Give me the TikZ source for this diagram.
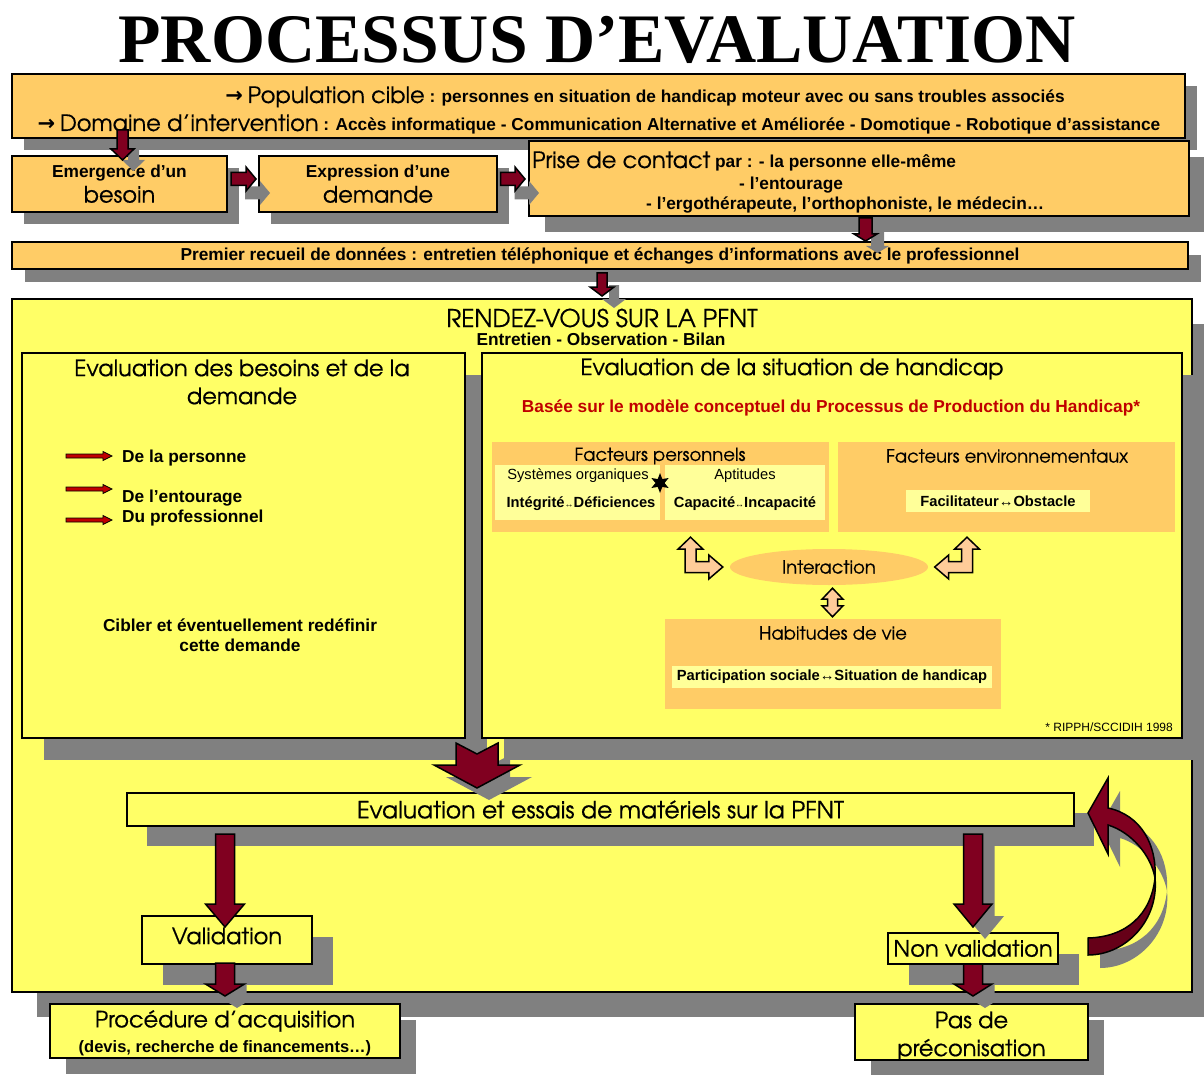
\documentclass[tikz,border=0pt]{standalone}
\usepackage{fontspec}
\setmainfont{Liberation Sans}
\newfontfamily\gothic[FakeBold=0.5]{texgyreadventor-regular.otf}
\newfontfamily\titlefont{Liberation Serif}
\newfontfamily\arrowfont{DejaVu Sans}
\usepackage{tikz}
\usetikzlibrary{calc,positioning,shadows,shapes.geometric}

\definecolor{boxorange}{RGB}{255,204,102}
\definecolor{boxyellow}{RGB}{255,255,102}
\definecolor{paleyellow}{RGB}{255,255,153}
\definecolor{arrowred}{RGB}{128,0,32}
\definecolor{arrowdark}{RGB}{102,0,24}
\definecolor{shadowgray}{RGB}{128,128,128}
\definecolor{peach}{RGB}{255,204,153}
\definecolor{textred}{RGB}{192,0,0}

\tikzset{
    panel/.style={
           rectangle,
           draw=black, line width=2pt,
           inner sep=0pt,
           align=center,
           font=\bfseries\fontsize{17.3}{25}\selectfont,
           },
    orangebox/.style={panel, fill=boxorange},
    yellowbox/.style={panel, fill=boxyellow},
    flatbox/.style={rectangle, fill=boxorange, inner sep=0pt},
    palebox/.style={rectangle, fill=paleyellow, inner sep=0pt, align=center},
    castshadow/.style={drop shadow={shadow xshift=#1, shadow yshift=-#1,
           fill=shadowgray, opacity=1}},
    boldtext/.style={font=\bfseries\fontsize{17.3}{20}\selectfont, inner sep=0pt, align=center},
    subtext/.style={font=\bfseries\fontsize{14.7}{17}\selectfont, inner sep=0pt},
    gothictext/.style={font=\gothic\fontsize{22.5}{28}\selectfont, inner sep=0pt, align=center},
    gothicsmall/.style={font=\gothic\fontsize{18}{20}\selectfont, inner sep=0pt},
    arrowbody/.style={fill=arrowred, draw=black, line width=1.5pt, line join=miter},
    arrowshade/.style={fill=shadowgray},
    thinarrow/.style={fill=textred, draw=black, line width=0.8pt},
    hollow/.style={fill=peach, draw=black, line width=1.5pt, line join=miter},
}

\newcommand{\bigword}[1]{{\gothic\mdseries\fontsize{22.5}{24}\selectfont #1}}
\newcommand{\pointer}{{\arrowfont\bfseries\fontsize{21}{21}\selectfont →}}
\newcommand{\smallarr}{{\fontsize{9}{10}\selectfont ↔}}

% block arrow going down: style, start, tip, half shaft, half head, head length
\newcommand{\vblock}[6]{%
  \path[#1] let \p1=#2, \p2=#3 in
    (\x1-#4,\y1) -- (\x1+#4,\y1) -- (\x1+#4,\y2+#6) -- (\x1+#5,\y2+#6) -- (\x1,\y2)
    -- (\x1-#5,\y2+#6) -- (\x1-#4,\y2+#6) -- cycle;}
% block arrow going right: style, start, tip, half shaft, half head, head length
\newcommand{\hblock}[6]{%
  \path[#1] let \p1=#2, \p2=#3 in
    (\x1,\y1+#4) -- (\x2-#6,\y1+#4) -- (\x2-#6,\y1+#5) -- (\x2,\y1)
    -- (\x2-#6,\y1-#5) -- (\x2-#6,\y1-#4) -- (\x1,\y1-#4) -- cycle;}
% same with a grey copy behind
\newcommand{\flowdown}[6]{%
  \vblock{arrowshade}{($#1+(#6,#6)$)}{($#2+(#6,#6)$)}{#3}{#4}{#5}
  \vblock{arrowbody}{#1}{#2}{#3}{#4}{#5}}
\newcommand{\flowright}[6]{%
  \hblock{arrowshade}{($#1+(#6,#6)$)}{($#2+(#6,#6)$)}{#3}{#4}{#5}
  \hblock{arrowbody}{#1}{#2}{#3}{#4}{#5}}
% wide arrow with notched tail: style, top centre, tip
\newcommand{\notchblock}[3]{%
  \path[#1] let \p1=#2, \p2=#3 in
    (\x1-21pt,\y1) -- (\x1,\y1-11pt) -- (\x1+21pt,\y1) -- (\x1+21pt,\y1-22pt)
    -- (\x1+43pt,\y1-22pt) -- (\x1,\y2) -- (\x1-43pt,\y1-22pt) -- (\x1-21pt,\y1-22pt) -- cycle;}
% bent double arrow: upper tip, side tip, direction
\newcommand{\bentblock}[3]{%
  \path[hollow] let \p1=#1, \p2=#2 in
    (\x1,\y1) -- ({\x1+#3*12.5pt},\y1-12pt) -- ({\x1+#3*5.5pt},\y1-12pt)
    -- ({\x1+#3*5.5pt},\y2+5.5pt) -- ({\x2-#3*14pt},\y2+5.5pt) -- ({\x2-#3*14pt},\y2+12pt)
    -- (\x2,\y2) -- ({\x2-#3*14pt},\y2-12pt) -- ({\x2-#3*14pt},\y2-5.5pt)
    -- ({\x1-#3*5.5pt},\y2-5.5pt) -- ({\x1-#3*5.5pt},\y1-12pt) -- ({\x1-#3*12.5pt},\y1-12pt) -- cycle;}
% straight double arrow: upper tip, lower tip
\newcommand{\twoway}[2]{%
  \path[hollow] let \p1=#1, \p2=#2 in
    (\x1,\y1) -- (\x1+10.5pt,\y1-11pt) -- (\x1+5pt,\y1-11pt) -- (\x1+5pt,\y2+11pt)
    -- (\x1+10.5pt,\y2+11pt) -- (\x1,\y2) -- (\x1-10.5pt,\y2+11pt) -- (\x1-5pt,\y2+11pt)
    -- (\x1-5pt,\y1-11pt) -- (\x1-10.5pt,\y1-11pt) -- cycle;}

\begin{document}
\begin{tikzpicture}[x=1pt,y=-1pt]
 \useasboundingbox (0,0) rectangle (1204,1075);

 \node[font=\titlefont\bfseries\fontsize{69.5}{72}\selectfont, anchor=base] (TITLE) at (597,63)
 {PROCESSUS D’EVALUATION};

 % banner: target population and field
 \node[orangebox, castshadow=12pt, minimum width=1173pt, minimum height=64pt] (TOP) at (598.5,106) {};
 \node[boldtext, anchor=base] (POP) at (645,103)
 {\pointer\ \bigword{Population cible} : personnes en situation de handicap moteur avec ou sans troubles associés};
 \node[boldtext, anchor=base] (DOM) at (599,131)
 {\pointer\ \bigword{Domaine d’intervention} : Accès informatique - Communication Alternative et Améliorée - Domotique - Robotique d’assistance};

 % first contact row
 \node[orangebox, castshadow=12pt, minimum width=215pt, minimum height=56pt] (EMERG) at (119.5,184)
 {Emergence d’un\\\bigword{besoin}};
 \node[orangebox, castshadow=12pt, minimum width=238pt, minimum height=56pt,
  right=30pt of EMERG] (EXPR)
 {Expression d’une\\\bigword{demande}};
 \node[orangebox, castshadow=16pt, minimum width=660pt, minimum height=75pt,
  right=30pt of EXPR, yshift=5.5pt] (PRISE) {};
 \node[boldtext, anchor=base west] (PRISEA) at (532,168) {\bigword{Prise de contact} par : - la personne elle-même};
 \node[boldtext, anchor=base west] (PRISEB) at (739,190) {- l’entourage};
 \node[boldtext, anchor=base west] (PRISEC) at (646,210) {- l’ergothérapeute, l’orthophoniste, le médecin…};

 \node[orangebox, castshadow=13pt, minimum width=1176pt, minimum height=27pt] (RECUEIL) at (600,255.5)
 {Premier recueil de données : entretien téléphonique et échanges d’informations avec le professionnel};

 % the PFNT appointment
 \node[yellowbox, castshadow=25pt, minimum width=1180pt, minimum height=693pt] (RDV) at (602,645.5) {};
 \node[gothictext, font=\gothic\fontsize{24.5}{28}\selectfont] (RDVA) at (602,318) {RENDEZ-VOUS SUR LA PFNT};
 \node[boldtext] (RDVB) at (601,339) {Entretien - Observation - Bilan};

 % left panel
 \node[yellowbox, castshadow=22pt, minimum width=443pt, minimum height=385pt] (BESOINS) at (243.5,545.5) {};
 \node[gothictext] (BESOINST) at (242,382) {Evaluation des besoins et de la\\demande};
 \node[boldtext, anchor=west] (PERS) at (122,458) {De la personne};
 \node[boldtext, anchor=west] (ENTOUR) at (122,498) {De l’entourage};
 \node[boldtext, anchor=west] (PROF) at (122,518) {Du professionnel};
 \node[boldtext] (CIBLE) at (240,635) {Cibler et éventuellement redéfinir\\cette demande};

 % right panel
 \node[yellowbox, castshadow=22pt, minimum width=700pt, minimum height=385pt] (SITUATION) at (832,545.5) {};
 \node[gothictext] (SITT) at (792,369) {Evaluation de la situation de handicap};
 \node[boldtext, text=textred] (MODELE) at (831,408)
 {Basée sur le modèle conceptuel du Processus de Production du Handicap*};

 \node[flatbox, minimum width=337pt, minimum height=90pt] (FPERSO) at (660.5,487) {};
 \node[gothicsmall] (FPERSOT) at (660,456) {Facteurs personnels};
 \node[palebox, minimum width=165pt, minimum height=55pt] (SYST) at (577.5,492.5) {};
 \node[palebox, minimum width=160pt, minimum height=55pt] (APTI) at (745,492.5) {};
 \node[font=\fontsize{14.7}{17}\selectfont, inner sep=0pt] (SYSTA) at (578,476) {Systèmes organiques};
 \node[subtext] (SYSTB) at (581,504) {Intégrité\smallarr Déficiences};
 \node[font=\fontsize{14.7}{17}\selectfont, inner sep=0pt] (APTIA) at (745,476) {Aptitudes};
 \node[subtext] (APTIB) at (745,504) {Capacité\smallarr Incapacité};
 \node[star, star points=6, star point ratio=2.2, fill=black, minimum size=20pt, inner sep=0pt] (LINK) at (660,483) {};

 \node[flatbox, minimum width=337pt, minimum height=90pt] (FENV) at (1006.5,487) {};
 \node[gothicsmall] (FENVT) at (1007,456) {Facteurs environnementaux};
 \node[palebox, minimum width=184pt, minimum height=22pt, subtext] (FACIL) at (998,501)
 {Facilitateur↔Obstacle};

 \node[ellipse, fill=boxorange, minimum width=198pt, minimum height=36pt, inner sep=0pt, gothicsmall] (INTER) at (829,567)
 {Interaction};

 \node[flatbox, minimum width=336pt, minimum height=90pt] (HABIT) at (833,664) {};
 \node[gothicsmall] (HABITT) at (833,633) {Habitudes de vie};
 \node[palebox, minimum width=320pt, minimum height=22pt, subtext] (PARTI) at (832,677)
 {Participation sociale↔Situation de handicap};
 \node[font=\fontsize{12}{13}\selectfont, inner sep=0pt, anchor=east] (RIPPH) at (1173,727) {* RIPPH/SCCIDIH 1998};

 % trials and outcome
 \node[yellowbox, castshadow=20pt, minimum width=947pt, minimum height=33pt] (ESSAIS) at (600.5,809.5)
 {{\gothic\fontsize{23.5}{24}\selectfont Evaluation et essais de matériels sur la PFNT}};
 \node[yellowbox, castshadow=21pt, minimum width=170pt, minimum height=48pt] (VALID) at (227,940) {};
 \node[gothictext] (VALIDT) at (227,936) {Validation};
 \node[yellowbox, castshadow=21pt, minimum width=170pt, minimum height=31pt] (NONVALID) at (973,948.5)
 {\bigword{Non validation}};
 \node[yellowbox, castshadow=16pt, minimum width=350pt, minimum height=54pt] (ACQUIS) at (225,1031) {};
 \node[boldtext, font=\bfseries\fontsize{16.5}{25}\selectfont] (ACQUIST) at (225,1033)
 {\bigword{Procédure d’acquisition}\\(devis, recherche de financements…)};
 \node[yellowbox, castshadow=16pt, minimum width=233pt, minimum height=56pt] (PASDE) at (971.5,1032) {};
 \node[gothictext] (PASDET) at (971.5,1036) {Pas de\\préconisation};

 % arrow ends
 \coordinate (A1s) at ($(EMERG.north |- TOP.south)+(3,-9)$);
 \coordinate (A1e) at ($(EMERG.north)+(3,5)$);
 \coordinate (A2s) at ($(EMERG.east)+(3,-5)$);
 \coordinate (A2e) at ($(EXPR.west)+(-2,-5)$);
 \coordinate (A3s) at ($(EXPR.east)+(2.5,-5)$);
 \coordinate (A3e) at ($(PRISE.west |- A3s)+(-3,0)$);
 \coordinate (A4s) at ($(PRISE.south)+(6.5,1)$);
 \coordinate (A4e) at (A4s |- RECUEIL.north);
 \coordinate (A5s) at ($(RECUEIL.south)+(2,3)$);
 \coordinate (A5e) at ($(A5s |- RDV.north)+(0,-2)$);
 \coordinate (BIGs) at ($(BESOINS.south east)!0.5!(SITUATION.south west)+(3.5,4)$);
 \coordinate (BIGe) at ($(BIGs |- ESSAIS.north)+(0,-4)$);
 \coordinate (V1s) at ($(VALID.north |- ESSAIS.south)+(-2,7)$);
 \coordinate (V1e) at ($(VALID.north)+(-2,12)$);
 \coordinate (V2s) at ($(VALID.south)+(-2,-2)$);
 \coordinate (V2e) at ($(V2s |- ACQUIS.north)+(0,-7)$);
 \coordinate (N1s) at ($(NONVALID.north |- ESSAIS.south)+(0,7)$);
 \coordinate (N1e) at ($(NONVALID.north)+(0,-5)$);
 \coordinate (N2s) at ($(NONVALID.south)+(0,-1)$);
 \coordinate (N2e) at ($(N2s |- PASDE.north)+(0,-7)$);
 \coordinate (CTIP) at ($(ESSAIS.east)+(13,3.5)$);

 % flow arrows
 \flowdown{(A1s)}{(A1e)}{5.5pt}{11.5pt}{11pt}{11}
 \flowright{(A2s)}{(A2e)}{6.5pt}{12pt}{10pt}{14}
 \flowright{(A3s)}{(A3e)}{6.5pt}{12pt}{10pt}{14}
 \flowdown{(A4s)}{(A4e)}{6.5pt}{11.5pt}{7pt}{12}
 \flowdown{(A5s)}{(A5e)}{5pt}{12pt}{9pt}{12}
 \notchblock{arrowshade}{($(BIGs)+(12,12)$)}{($(BIGe)+(12,12)$)}
 \notchblock{arrowbody}{(BIGs)}{(BIGe)}
 \vblock{arrowbody}{(V1s)}{(V1e)}{9.5pt}{19.5pt}{23pt}
 \flowdown{(V2s)}{(V2e)}{9.5pt}{19.5pt}{12pt}{12}
 \flowdown{(N1s)}{(N1e)}{9.5pt}{19pt}{23pt}{12}
 \flowdown{(N2s)}{(N2e)}{9.5pt}{19pt}{12pt}{12}

 % small arrows of the left panel
 \hblock{thinarrow}{($(PERS.west)+(-56,-2)$)}{($(PERS.west)+(-10,-2)$)}{2pt}{4.5pt}{9pt}
 \hblock{thinarrow}{($(ENTOUR.west)+(-56,-9)$)}{($(ENTOUR.west)+(-10,-9)$)}{2pt}{4.5pt}{9pt}
 \hblock{thinarrow}{($(PROF.west)+(-56,2)$)}{($(PROF.west)+(-10,2)$)}{2pt}{4.5pt}{9pt}

 % interaction arrows
 \bentblock{($(FPERSO.south)+(30,5)$)}{($(INTER.west)+(-7,0)$)}{1}
 \bentblock{($(FENV.south)+(-39.5,5)$)}{($(INTER.east)+(6.5,0)$)}{(-1)}
 \twoway{($(INTER.south)+(3.5,3)$)}{($(HABIT.north)+(-0.5,-2)$)}

 % loop back from non validation
 \begin{scope}[shift={(CTIP)}]
  \fill[arrowshade, shift={(12,13)}] (20,-5) .. controls (53,2) and (69,32) .. (67,65)
   .. controls (63,42) and (43,19) .. (20,12) -- (20,41) -- (0,0) -- (20,-35) -- cycle;
  \fill[arrowshade, shift={(12,13)}] (67,65) .. controls (71,107) and (38,142) .. (0,142)
   -- (0,125) .. controls (38,124) and (63,102) .. (67,65) -- cycle;
  \path[arrowbody] (20,-5) .. controls (53,2) and (69,32) .. (67,65)
   .. controls (63,42) and (43,19) .. (20,12) -- (20,41) -- (0,0) -- (20,-35) -- cycle;
  \path[arrowbody, fill=arrowdark] (67,65) .. controls (71,107) and (38,142) .. (0,142)
   -- (0,125) .. controls (38,124) and (63,102) .. (67,65) -- cycle;
 \end{scope}
\end{tikzpicture}
\end{document}
